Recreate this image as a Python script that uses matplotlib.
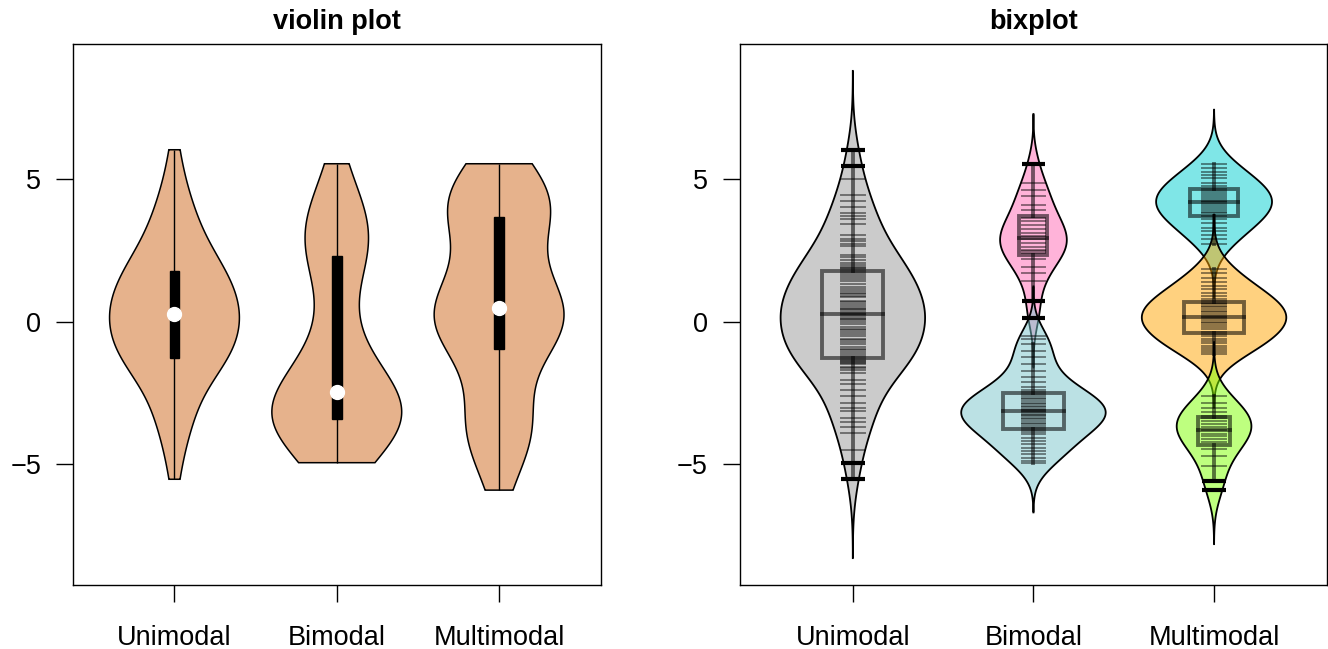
import matplotlib
import numpy as np
from matplotlib import pyplot as plt
from matplotlib.colors import to_rgba
from matplotlib.patches import Rectangle

matplotlib.use("Agg")

plt.rcParams["font.family"] = ["Liberation Sans", "DejaVu Sans"]

CATEGORIES = ["Unimodal", "Bimodal", "Multimodal"]

UNIMODAL = [6.01, 5.45, 4.97, 4.44, 4.23, 4.00, 3.78, 3.68, 3.60, 3.41, 3.04, 2.90, 2.81,
            2.72, 2.63, 2.34, 2.26, 2.14, 2.05, 1.96, 1.92, 1.88, 1.82, 1.78,
            1.70, 1.62, 1.55, 1.50, 1.42, 1.30, 1.22, 1.15, 1.05, 0.98, 0.95, 0.90, 0.85,
            0.72, 0.68, 0.62, 0.55, 0.48, 0.45, 0.40, 0.33, 0.28, 0.25, 0.19, 0.12, 0.08,
            0.05, -0.02, -0.10, -0.18, -0.25, -0.30, -0.35, -0.45, -0.52, -0.60, -0.65,
            -0.70, -0.78, -0.88, -0.95, -1.00, -1.05, -1.12, -1.20, -1.27,
            -1.33, -1.37, -1.42, -1.46, -1.50, -1.59, -1.63, -1.68, -1.80, -2.03, -2.20,
            -2.38, -2.61, -2.85, -3.02, -3.14, -3.37, -3.50, -3.68, -3.90, -4.50, -4.94,
            -5.52]

BIMODAL_HIGH = [5.52, 4.85, 4.60, 4.38, 4.09, 3.90,
                3.62, 3.50, 3.38, 3.22, 3.10, 2.98, 2.88, 2.75, 2.62, 2.50, 2.45, 2.40,
                2.17, 1.92, 1.70, 1.41, 0.73, 0.13]
BIMODAL_LOW = [-0.51, -0.62, -0.80, -1.03, -1.25, -1.50, -1.74, -1.95, -2.12, -2.28,
               -2.40, -2.48,
               -2.55, -2.60, -2.66, -2.72, -2.78, -2.84, -2.90, -2.95, -3.00, -3.05,
               -3.10, -3.14, -3.18, -3.22, -3.27, -3.32, -3.37, -3.42, -3.48, -3.54,
               -3.60, -3.66, -3.72,
               -3.78, -3.85, -3.95, -4.07, -4.18, -4.30, -4.42, -4.53, -4.65, -4.78,
               -4.88, -4.94]

MULTI_HIGH = [5.52, 5.37, 5.22, 5.14, 5.02, 4.85, 4.73, 4.64, 4.58, 4.50, 4.42, 4.35,
              4.28, 4.22, 4.18, 4.12, 4.05, 3.98, 3.90, 3.84, 3.78, 3.68, 3.57, 3.45,
              3.27, 3.16, 3.01, 2.87, 2.72]
MULTI_MID = [1.85, 1.68, 1.52, 1.38, 1.25, 1.12, 1.00, 0.88, 0.78,
             0.71, 0.66, 0.60, 0.55, 0.50, 0.44, 0.38, 0.32, 0.26, 0.20, 0.15, 0.11,
             0.06, 0.00, -0.06, -0.13, -0.20, -0.27, -0.35, -0.43,
             -0.52, -0.60, -0.68, -0.76, -0.84, -0.91, -0.98, -1.05, -1.12]
MULTI_LOW = [-2.61, -2.85, -3.04, -3.18, -3.30,
             -3.38, -3.48, -3.58, -3.68, -3.80, -3.92, -4.02, -4.12, -4.22,
             -4.45, -4.72, -5.05, -5.58, -5.90]

COLUMNS = [[UNIMODAL], [BIMODAL_HIGH, BIMODAL_LOW], [MULTI_HIGH, MULTI_MID, MULTI_LOW]]
BEAN_BANDWIDTH = [0.92, 0.58, 0.63]

VIOLIN_COLOR = "#E6B28C"
BEAN_COLORS = [["#999999"], ["hotpink", "#79C5CB"], ["#00CED1", "#FFA500", "#7FFF00"]]

MAX_HALF_WIDTH = 0.4
RUG_HALF = 0.065
FONT_SIZE = 19.5


def kde(values, grid, bw):
    z = (grid[:, None] - np.asarray(values)[None, :]) / bw
    return np.exp(-0.5 * z ** 2).sum(axis=1) / (len(values) * bw * np.sqrt(2 * np.pi))


def style_axes(ax, title):
    ax.set_xlim(0.375, 3.625)
    ax.set_ylim(-9.22, 9.71)
    ax.set_xticks([1, 2, 3], CATEGORIES)
    ax.set_yticks([-5, 0, 5])
    ax.tick_params(length=12, width=1, labelsize=FONT_SIZE, pad=11)
    ax.tick_params(axis="x", pad=17)
    for spine in ax.spines.values():
        spine.set_linewidth(1)
    ax.set_title(title, fontsize=FONT_SIZE, fontweight="bold", pad=11)


def violin_panel(ax):
    for pos, groups in enumerate(COLUMNS, start=1):
        data = np.concatenate([np.asarray(g) for g in groups])
        # normal-optimal smoothing, like sm.density
        bw = data.std(ddof=1) * (4 / (3 * len(data))) ** 0.2
        grid = np.linspace(data.min(), data.max(), 400)
        half = kde(data, grid, bw)
        half = half / half.max() * MAX_HALF_WIDTH
        ax.fill(np.concatenate([pos - half, (pos + half)[::-1]]),
                np.concatenate([grid, grid[::-1]]),
                facecolor=VIOLIN_COLOR, edgecolor="black", lw=1.1, zorder=2)
        q1, med, q3 = np.percentile(data, [25, 50, 75])
        ax.vlines(pos, data.min(), data.max(), color="black", lw=1, zorder=3)
        ax.add_patch(Rectangle((pos - 0.03, q1), 0.06, q3 - q1, color="black", zorder=4))
        ax.plot(pos, med, "o", color="white", ms=10, zorder=5)
    style_axes(ax, "violin plot")


def bean_panel(ax):
    for pos, (groups, colors, bw) in enumerate(zip(COLUMNS, BEAN_COLORS, BEAN_BANDWIDTH), start=1):
        profiles = []
        for values in groups:
            values = np.asarray(values)
            grid = np.linspace(values.min() - 3 * bw, values.max() + 3 * bw, 400)
            profiles.append((grid, kde(values, grid, bw) * len(values)))
        scale = MAX_HALF_WIDTH / max(d.max() for _, d in profiles)

        for (grid, dens), color in zip(profiles, colors):
            half = dens * scale
            ax.fill(np.concatenate([pos - half, (pos + half)[::-1]]),
                    np.concatenate([grid, grid[::-1]]),
                    facecolor=to_rgba(color, 0.5), edgecolor="black", lw=1.3, zorder=2)

        # bean lines: grey inside the bean, black where they stick out of it
        for values, (grid, dens) in zip(groups, profiles):
            for y in values:
                w = np.interp(y, grid, dens * scale)
                if w >= RUG_HALF:
                    ax.plot([pos - RUG_HALF, pos + RUG_HALF], [y, y], color="black",
                            alpha=0.45, lw=1.4, zorder=3)
                else:
                    ax.plot([pos - RUG_HALF, pos + RUG_HALF], [y, y], color="black",
                            lw=3, solid_capstyle="butt", zorder=4)

        box_style = dict(color="black", alpha=0.55, lw=2.8, zorder=5)
        for values, (grid, dens) in zip(groups, profiles):
            values = np.asarray(values)
            q1, med, q3 = np.percentile(values, [25, 50, 75])
            iqr = q3 - q1
            lo = values[values >= q1 - 1.5 * iqr].min()
            hi = values[values <= q3 + 1.5 * iqr].max()
            bw_box = 0.42 * (dens * scale).max()
            ax.add_patch(Rectangle((pos - bw_box, q1), 2 * bw_box, iqr, fill=False,
                                   edgecolor=to_rgba("black", 0.55), lw=2.8, zorder=5))
            ax.plot([pos - bw_box, pos + bw_box], [med, med], **box_style)
            ax.plot([pos, pos], [q3, hi], **box_style)
            ax.plot([pos, pos], [lo, q1], **box_style)
    style_axes(ax, "bixplot")


fig = plt.figure(figsize=(13.28, 6.49), dpi=100)
ax_left = fig.add_axes([0.0550, 0.0986, 0.3972, 0.8336])
ax_right = fig.add_axes([0.5572, 0.0986, 0.4420, 0.8336])
violin_panel(ax_left)
bean_panel(ax_right)
fig.savefig("out.png", dpi=100)
